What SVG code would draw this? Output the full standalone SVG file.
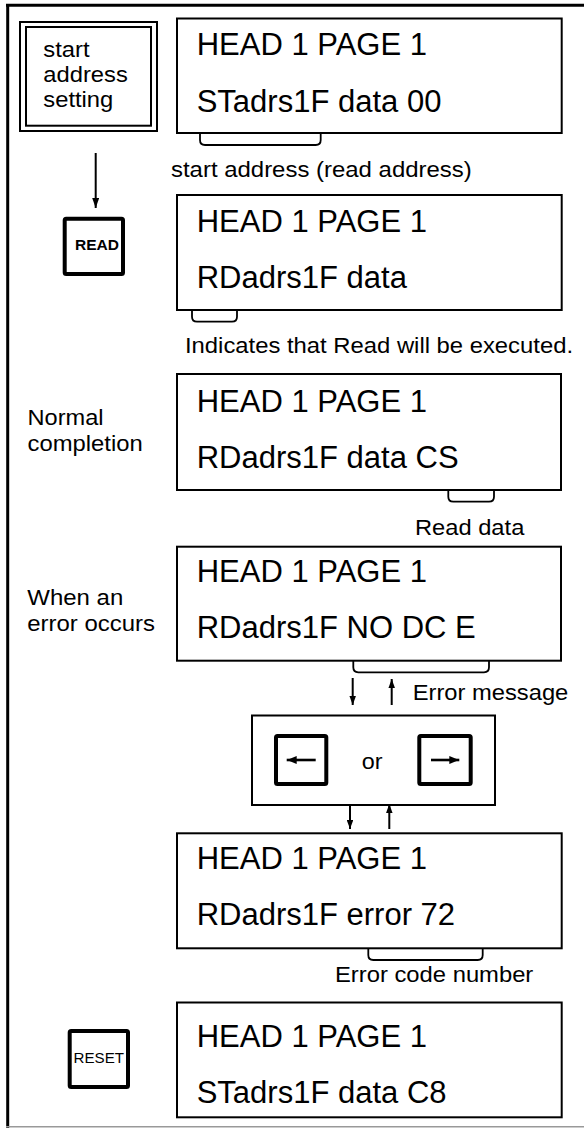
<svg xmlns="http://www.w3.org/2000/svg" width="584" height="1128" viewBox="0 0 584 1128">
<style>
.lcd{fill:#fff;stroke:#000;stroke-width:2}
.lt{font-family:"Liberation Sans",Arial,sans-serif;font-size:31px;fill:#000}
.st{font-family:"Liberation Sans",Arial,sans-serif;font-size:21.5px;fill:#000}
.key{fill:#fff;stroke:#000;stroke-width:4}
.thin{fill:none;stroke:#000;stroke-width:2}
.br{fill:none;stroke:#000;stroke-width:1.8}
.ar{fill:none;stroke:#000;stroke-width:2}
.ka{fill:none;stroke:#000;stroke-width:2.6}
</style>
<defs>
<marker id="ah" viewBox="0 0 10 10" refX="10" refY="5" markerWidth="10" markerHeight="7" orient="auto" markerUnits="userSpaceOnUse" preserveAspectRatio="none"><path d="M0,0 L10,5 L0,10 z" fill="#000"/></marker>
<marker id="ahs" viewBox="0 0 10 10" refX="10" refY="5" markerWidth="9" markerHeight="6.5" orient="auto" markerUnits="userSpaceOnUse" preserveAspectRatio="none"><path d="M0,0 L10,5 L0,10 z" fill="#000"/></marker>
<marker id="ahk" viewBox="0 0 10 10" refX="10" refY="5" markerWidth="10" markerHeight="8" orient="auto" markerUnits="userSpaceOnUse" preserveAspectRatio="none"><path d="M0,0 L10,5 L0,10 z" fill="#000"/></marker>
</defs>
<rect width="584" height="1128" fill="#fff"/>
<g id="frame">
<line x1="6" y1="5.3" x2="584" y2="5.3" stroke="#000" stroke-width="3"/>
<line x1="7.7" y1="4" x2="7.7" y2="1128" stroke="#000" stroke-width="3"/>
<line x1="6" y1="1126.8" x2="584" y2="1126.8" stroke="#999" stroke-width="1.6"/>
</g>
<g id="start-address-setting">
<rect x="20" y="22" width="137" height="109" class="thin"/>
<rect x="26" y="27" width="125" height="98.7" class="thin"/>
<text class="st" x="43.3" y="56.7" textLength="46.3" lengthAdjust="spacingAndGlyphs">start</text>
<text class="st" x="43.3" y="81.7" textLength="84.5" lengthAdjust="spacingAndGlyphs">address</text>
<text class="st" x="43.3" y="106.7" textLength="70" lengthAdjust="spacingAndGlyphs">setting</text>
</g>
<g id="lcd1">
<rect x="177" y="18.5" width="384.7" height="114.5" class="lcd"/>
<text class="lt" x="196.7" y="55">HEAD 1 PAGE 1</text>
<text class="lt" x="196.7" y="111.7">STadrs1F data 00</text>
</g>
<g id="read-key">
<rect x="64.7" y="218.7" width="58.3" height="55.3" rx="1.5" class="key"/>
<text x="75" y="250" font-family="Liberation Sans,Arial,sans-serif" font-size="15" font-weight="bold" textLength="44" lengthAdjust="spacingAndGlyphs">READ</text>
</g>
<g id="lcd2">
<rect x="177" y="195" width="384.7" height="115" class="lcd"/>
<text class="lt" x="196.7" y="231.7">HEAD 1 PAGE 1</text>
<text class="lt" x="196.7" y="288.3">RDadrs1F data</text>
</g>
<g id="label-normal">
<text class="st" x="27.5" y="425" textLength="76" lengthAdjust="spacingAndGlyphs">Normal</text>
<text class="st" x="27.5" y="450.7" textLength="115.2" lengthAdjust="spacingAndGlyphs">completion</text>
</g>
<g id="lcd3">
<rect x="177" y="374" width="384" height="116" class="lcd"/>
<text class="lt" x="196.7" y="411.7">HEAD 1 PAGE 1</text>
<text class="lt" x="196.7" y="468.3">RDadrs1F data CS</text>
</g>
<g id="label-error">
<text class="st" x="27.3" y="605" textLength="96" lengthAdjust="spacingAndGlyphs">When an</text>
<text class="st" x="27.3" y="630.7" textLength="127.7" lengthAdjust="spacingAndGlyphs">error occurs</text>
</g>
<g id="lcd4">
<rect x="177" y="546.7" width="384" height="114" class="lcd"/>
<text class="lt" x="196.7" y="581.7">HEAD 1 PAGE 1</text>
<text class="lt" x="196.7" y="638.3">RDadrs1F NO DC E</text>
</g>
<g id="arrow-keys">
<rect x="252" y="715.5" width="243" height="89.5" class="thin"/>
<rect x="276" y="736" width="50.3" height="48" rx="1.5" class="key"/>
<rect x="419.3" y="736" width="51.4" height="48" rx="1.5" class="key"/>
<line x1="315.7" y1="760" x2="286.7" y2="760" class="ka" marker-end="url(#ahk)"/>
<line x1="431" y1="760" x2="459.3" y2="760" class="ka" marker-end="url(#ahk)"/>
<text class="st" x="361.7" y="769.3" textLength="20.8" lengthAdjust="spacingAndGlyphs">or</text>
</g>
<g id="lcd6">
<rect x="177" y="833.3" width="384.7" height="115" class="lcd"/>
<text class="lt" x="196.7" y="869.3">HEAD 1 PAGE 1</text>
<text class="lt" x="196.7" y="925">RDadrs1F error 72</text>
</g>
<g id="reset-key">
<rect x="69.7" y="1031" width="58.3" height="56" rx="1.5" class="key"/>
<text x="73.5" y="1063.3" font-family="Liberation Sans,Arial,sans-serif" font-size="15.5" textLength="50.5" lengthAdjust="spacingAndGlyphs">RESET</text>
</g>
<g id="lcd7">
<rect x="177" y="1002.5" width="384.7" height="114.8" class="lcd"/>
<text class="lt" x="196.7" y="1046.7">HEAD 1 PAGE 1</text>
<text class="lt" x="196.7" y="1103.3">STadrs1F data C8</text>
</g>
<g id="callouts">
<path class="br" d="M200,133 V140 Q200,145 205,145 H315.7 Q320.7,145 320.7,140 V133"/>
<text class="st" x="171" y="176.7" textLength="300.7" lengthAdjust="spacingAndGlyphs">start address (read address)</text>
<path class="br" d="M192,310 V316.7 Q192,321.7 197,321.7 H232 Q237,321.7 237,316.7 V310"/>
<text class="st" x="185" y="353" textLength="388" lengthAdjust="spacingAndGlyphs">Indicates that Read will be executed.</text>
<path class="br" d="M448.3,490 V496.7 Q448.3,501.7 453.3,501.7 H489 Q494,501.7 494,496.7 V490"/>
<text class="st" x="415" y="535" textLength="109.3" lengthAdjust="spacingAndGlyphs">Read data</text>
<path class="br" d="M353.3,660.7 V667.3 Q353.3,672.3 358.3,672.3 H484 Q489,672.3 489,667.3 V660.7"/>
<text class="st" x="412.7" y="700" textLength="155.6" lengthAdjust="spacingAndGlyphs">Error message</text>
<path class="br" d="M368.3,948.3 V955 Q368.3,960 373.3,960 H477.7 Q482.7,960 482.7,955 V948.3"/>
<text class="st" x="335" y="981.7" textLength="198.3" lengthAdjust="spacingAndGlyphs">Error code number</text>
</g>
<g id="connectors">
<line x1="95.7" y1="153" x2="95.7" y2="208" class="ar" marker-end="url(#ah)"/>
<line x1="352.7" y1="678" x2="352.7" y2="705" class="ar" marker-end="url(#ahs)"/>
<line x1="391.7" y1="705" x2="391.7" y2="679" class="ar" marker-end="url(#ahs)"/>
<line x1="350" y1="805" x2="350" y2="829" class="ar" marker-end="url(#ahs)"/>
<line x1="389.3" y1="829" x2="389.3" y2="804" class="ar" marker-end="url(#ahs)"/>
</g>
</svg>
